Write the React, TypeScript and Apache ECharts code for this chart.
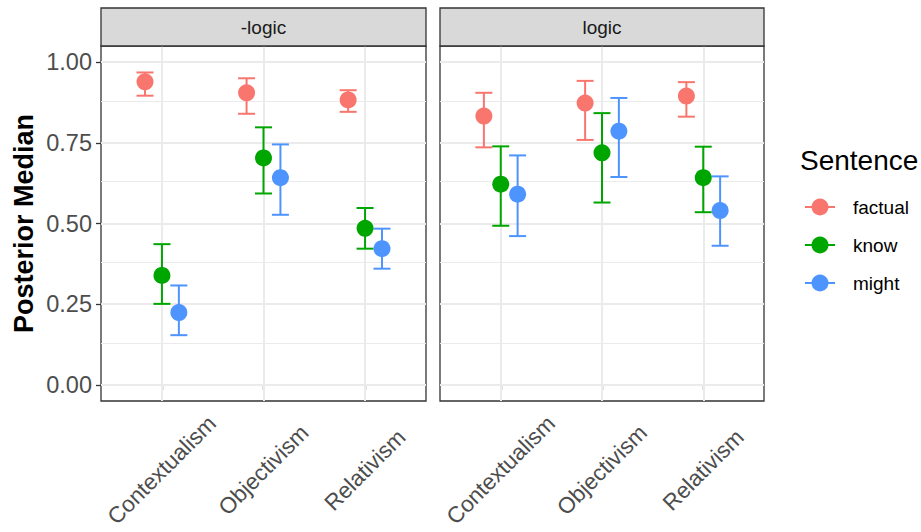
import React, { useEffect, useRef } from "react";
import * as echarts from "echarts";

const categories = ["Contextualism", "Objectivism", "Relativism"];
const panels = ["-logic", "logic"];
const sentences = ["factual", "know", "might"];
const colors = ["#F8766D", "#00A600", "#4D94FF"];
const yTicks = [0, 0.25, 0.5, 0.75, 1];
const yMinor = [0.125, 0.375, 0.625, 0.875];

// panel "-logic"
const noLogicFactualMed = [0.939, 0.905, 0.883];
const noLogicFactualLo = [0.896, 0.84, 0.846];
const noLogicFactualHi = [0.968, 0.95, 0.913];
const noLogicKnowMed = [0.339, 0.703, 0.485];
const noLogicKnowLo = [0.251, 0.593, 0.422];
const noLogicKnowHi = [0.436, 0.798, 0.548];
const noLogicMightMed = [0.224, 0.642, 0.422];
const noLogicMightLo = [0.154, 0.527, 0.36];
const noLogicMightHi = [0.308, 0.745, 0.484];

// panel "logic"
const logicFactualMed = [0.833, 0.873, 0.895];
const logicFactualLo = [0.736, 0.759, 0.831];
const logicFactualHi = [0.905, 0.942, 0.938];
const logicKnowMed = [0.622, 0.719, 0.642];
const logicKnowLo = [0.493, 0.565, 0.535];
const logicKnowHi = [0.739, 0.842, 0.738];
const logicMightMed = [0.591, 0.786, 0.54];
const logicMightLo = [0.461, 0.644, 0.431];
const logicMightHi = [0.711, 0.889, 0.646];

const panelData = [
  [
    [noLogicFactualMed, noLogicFactualLo, noLogicFactualHi],
    [noLogicKnowMed, noLogicKnowLo, noLogicKnowHi],
    [noLogicMightMed, noLogicMightLo, noLogicMightHi],
  ],
  [
    [logicFactualMed, logicFactualLo, logicFactualHi],
    [logicKnowMed, logicKnowLo, logicKnowHi],
    [logicMightMed, logicMightLo, logicMightHi],
  ],
];

const FONT = "Liberation Sans, Arial, Helvetica, sans-serif";
const dodge = [-1 / 6, 0, 1 / 6];

export default function App() {
  const ref = useRef<HTMLDivElement>(null);
  useEffect(() => {
    if (!ref.current) return;
    const chart = echarts.init(ref.current, null, { renderer: "svg" });
    const grids = [
      { left: 101, top: 46, width: 325, height: 355 },
      { left: 440, top: 46, width: 324, height: 355 },
    ];
    const series: any[] = [];
    panels.forEach((_, p) => {
      // grid lines
      series.push({
        type: "line",
        xAxisIndex: p,
        yAxisIndex: p,
        data: [],
        z: 1,
        silent: true,
        markLine: {
          silent: true,
          z: 1,
          symbol: "none",
          animation: false,
          label: { show: false },
          data: [
            ...yMinor.map((v) => ({ yAxis: v, lineStyle: { color: "#EBEBEB", width: 1, type: "solid" } })),
            ...yTicks.map((v) => ({ yAxis: v, lineStyle: { color: "#EBEBEB", width: 2, type: "solid" } })),
            ...categories.map((_, i) => ({ xAxis: i + 1, lineStyle: { color: "#EBEBEB", width: 2, type: "solid" } })),
          ],
        },
      });
      sentences.forEach((s, k) => {
        const [med, lo, hi] = panelData[p][k];
        const color = colors[k];
        series.push({
          type: "custom",
          name: s,
          xAxisIndex: p,
          yAxisIndex: p,
          z: 3,
          data: categories.map((_, i) => [i + 1 + dodge[k], lo[i], hi[i]]),
          encode: { x: 0, y: [1, 2] },
          renderItem: (params: any, api: any) => {
            const x = api.value(0);
            const a = api.coord([x, api.value(1)]);
            const b = api.coord([x, api.value(2)]);
            const hw = 8.5;
            const st = { stroke: color, lineWidth: 2 };
            return {
              type: "group",
              children: [
                { type: "line", shape: { x1: a[0], y1: a[1], x2: b[0], y2: b[1] }, style: st },
                { type: "line", shape: { x1: a[0] - hw, y1: a[1], x2: a[0] + hw, y2: a[1] }, style: st },
                { type: "line", shape: { x1: b[0] - hw, y1: b[1], x2: b[0] + hw, y2: b[1] }, style: st },
              ],
            };
          },
        });
        series.push({
          type: "scatter",
          name: s,
          xAxisIndex: p,
          yAxisIndex: p,
          z: 4,
          symbol: "circle",
          symbolSize: 17,
          itemStyle: { color, opacity: 1 },
          data: categories.map((_, i) => [i + 1 + dodge[k], med[i]]),
        });
      });
    });

    const xAxes = panels.map((_, p) => ({
      type: "value",
      gridIndex: p,
      min: 0.4,
      max: 3.6,
      axisLine: { show: false },
      splitLine: { show: false },
      axisTick: {
        show: true,
        customValues: [1, 2, 3],
        length: 5,
        lineStyle: { color: "#333333", width: 1.3 },
      },
      axisLabel: {
        show: true,
        customValues: [1, 2, 3],
        formatter: (v: number) => categories[Math.round(v) - 1] ?? "",
        rotate: 45,
        align: "center",
        verticalAlign: "middle",
        margin: 69,
        fontSize: 22.5,
        color: "#4D4D4D",
        fontFamily: FONT,
        hideOverlap: false,
      },
    }));
    const yAxes = panels.map((_, p) => ({
      type: "value",
      gridIndex: p,
      min: -0.05,
      max: 1.05,
      axisLine: { show: false },
      splitLine: { show: false },
      name: p === 0 ? "Posterior Median" : "",
      nameLocation: "middle",
      nameGap: 64,
      nameRotate: 90,
      nameTextStyle: { fontSize: 27, fontWeight: "bold", color: "#000000", fontFamily: FONT },
      axisTick: {
        show: p === 0,
        customValues: yTicks,
        length: 5,
        lineStyle: { color: "#333333", width: 1.3 },
      },
      axisLabel: {
        show: p === 0,
        customValues: yTicks,
        formatter: (v: number) => v.toFixed(2),
        margin: 9,
        fontSize: 23.5,
        color: "#4D4D4D",
        fontFamily: FONT,
      },
    }));

    const graphic: any[] = [];
    panels.forEach((name, p) => {
      const g = grids[p];
      graphic.push({
        type: "rect",
        shape: { x: g.left, y: 8, width: g.width, height: 38 },
        style: { fill: "#D9D9D9", stroke: "#333333", lineWidth: 1.3 },
        z: 10,
      });
      graphic.push({
        type: "text",
        x: g.left + g.width / 2,
        y: 27,
        style: {
          text: name,
          fontSize: 19,
          fill: "#1A1A1A",
          fontFamily: FONT,
          textAlign: "center",
          textVerticalAlign: "middle",
        },
        z: 11,
      });
    });
    graphic.push({
      type: "text",
      x: 800,
      y: 160,
      style: {
        text: "Sentence",
        fontSize: 28,
        fill: "#000000",
        fontFamily: FONT,
        textAlign: "left",
        textVerticalAlign: "middle",
      },
    });
    const rowY = [207, 245, 283];
    sentences.forEach((s, k) => {
      graphic.push({
        type: "line",
        shape: { x1: 805, y1: rowY[k], x2: 835, y2: rowY[k] },
        style: { stroke: colors[k], lineWidth: 2 },
      });
      graphic.push({
        type: "circle",
        shape: { cx: 820, cy: rowY[k], r: 8.5 },
        style: { fill: colors[k] },
      });
      graphic.push({
        type: "text",
        x: 853,
        y: rowY[k],
        style: {
          text: s,
          fontSize: 19,
          fill: "#000000",
          fontFamily: FONT,
          textAlign: "left",
          textVerticalAlign: "middle",
        },
      });
    });

    chart.setOption({
      animation: false,
      backgroundColor: "#FFFFFF",
      grid: grids.map((g) => ({
        ...g,
        show: true,
        backgroundColor: "#FFFFFF",
        borderColor: "#333333",
        borderWidth: 1.3,
        containLabel: false,
        outerBoundsMode: "none",
      })),
      xAxis: xAxes,
      yAxis: yAxes,
      series,
      graphic,
    });
    return () => chart.dispose();
  }, []);
  return (
    <div
      ref={ref}
      style={{ position: "fixed", left: 0, top: 0, width: 921, height: 532 }}
    />
  );
}
